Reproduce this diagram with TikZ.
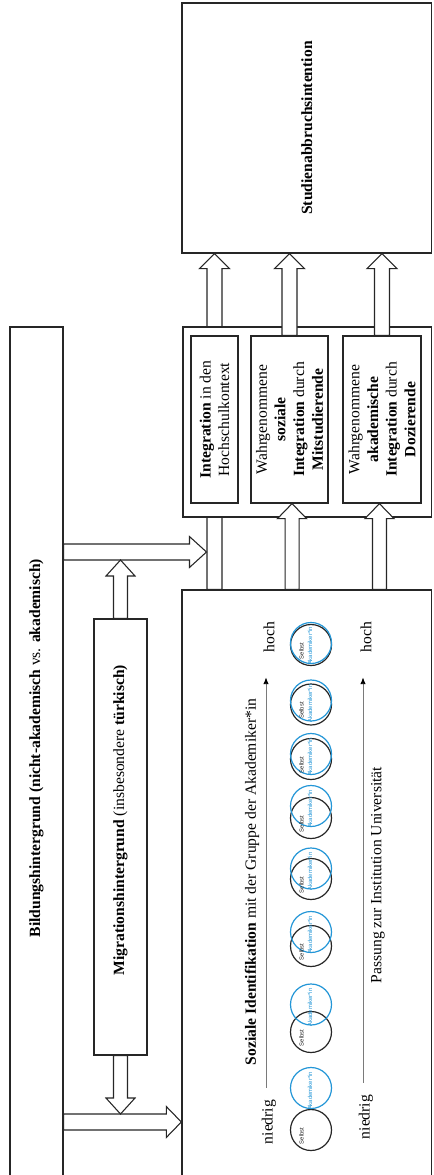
\documentclass[tikz,border=0pt]{standalone}
\usepackage{fontspec}
\setmainfont{Liberation Serif}
\newfontfamily\sansf{Liberation Sans}
\usetikzlibrary{calc,fit,arrows.meta}
\definecolor{lineblk}{HTML}{262626}
\definecolor{akblue}{HTML}{2396D7}
\definecolor{axisgray}{HTML}{7A7A7A}
\pgfdeclarelayer{background}
\pgfsetlayers{background,main}
\newcommand{\drawblockarrow}[5]{%
  \coordinate (ba-t) at (#1);
  \coordinate (ba-p) at (#2);
  \coordinate (ba-h) at ($(ba-p)!#5!(ba-t)$);
  \draw[barrow] ($(ba-t)!#3!90:(ba-p)$) -- ($(ba-h)!#3!-90:(ba-t)$) -- ($(ba-h)!#4!-90:(ba-t)$) -- (ba-p) -- ($(ba-h)!#4!90:(ba-t)$) -- ($(ba-h)!#3!90:(ba-t)$) -- ($(ba-t)!#3!-90:(ba-p)$) -- cycle;
}
\begin{document}
\begin{tikzpicture}[x=0.75pt,y=-0.75pt,
  box/.style={draw=lineblk, line width=1pt, fill=white, inner sep=0pt},
  innerbox/.style={draw=lineblk, line width=0.9pt, fill=white, inner sep=0pt},
  barrow/.style={draw=lineblk, line width=0.8pt, fill=white, line join=miter},
  lbl/.style={rotate=90, font=\fontsize{11.7}{14}\selectfont, align=center, inner sep=0pt},
  circs/.style={circle, draw=#1, line width=0.9pt, minimum size=30.75pt, inner sep=0pt},
  tinylbl/.style={rotate=90, font=\sansf\fontsize{4.4}{5}\selectfont, inner sep=0pt},
  axisline/.style={draw=axisgray, line width=0.6pt, -{Latex[length=5pt,width=4pt,black]}, shorten <=9pt, shorten >=18.75pt}
]
\useasboundingbox (0,0) rectangle (433,1175);

% main boxes
\node[box, fit={(182,3) (431.5,253)}] (studien) {};
\node[lbl] (studientxt) at (studien.center) {\textbf{Studienabbruchsintention}};

\node[box, fit={(10,327) (63,1185)}] (bildung) {};
\node[lbl] (bildungtxt) at (36.5,748) {\textbf{Bildungshintergrund (nicht-akademisch} vs. \textbf{akademisch)}};

\node[box, fit={(94,619) (147,1055)}] (migration) {};
\node[lbl] (migtxt) at (120.5,820) {\textbf{Migrationshintergrund} (insbesondere \textbf{türkisch)}};

\node[box, fit={(182,590) (431.5,1185)}] (sozial) {};

% integration boxes
\node[box, fit={(183,327) (431.5,517)}] (integ) {};
\node[innerbox, fit={(191,336) (238,503)}] (inner1) {};
\node[innerbox, fit={(251,336) (328,503)}] (inner2) {};
\node[innerbox, fit={(343,336) (421,503)}] (inner3) {};
\node[lbl] (inner1txt) at (inner1.center) {\textbf{Integration} in den\\Hochschulkontext};
\node[lbl] (inner2txt) at (inner2.center) {Wahrgenommene\\\textbf{soziale}\\\textbf{Integration} durch\\\textbf{Mitstudierende}};
\node[lbl] (inner3txt) at (inner3.center) {Wahrgenommene\\\textbf{akademische}\\\textbf{Integration} durch\\\textbf{Dozierende}};

% long arrow through the integration box (behind it)
\begin{pgfonlayer}{background}
\drawblockarrow{inner1.center |- sozial.north}{inner1.center |- studien.south}{5.625pt}{11.25pt}{11.25pt}
\end{pgfonlayer}

% arrows to Studienabbruchsintention
\drawblockarrow{inner2.north}{inner2.north |- studien.south}{5.625pt}{11.25pt}{11.25pt}
\drawblockarrow{inner3.north}{inner3.north |- studien.south}{5.625pt}{11.25pt}{11.25pt}

% arrows from Soziale Identifikation box into inner boxes
\coordinate (b2tip) at ([xshift=1.9pt]inner2.south);
\coordinate (b3tip) at ([xshift=-1.9pt]inner3.south);
\drawblockarrow{b2tip |- sozial.north}{b2tip}{5.25pt}{10.9pt}{11.25pt}
\drawblockarrow{b3tip |- sozial.north}{b3tip}{5.25pt}{10.9pt}{11.25pt}

% Bildungshintergrund -> moderation arrows
\coordinate (j1) at (206.5,552);
\coordinate (j1b) at ($(j1)+(0,8)$);
\drawblockarrow{bildung.east |- j1}{j1}{6pt}{11.6pt}{12.75pt}
\drawblockarrow{migration.north}{migration.north |- j1b}{5.25pt}{10.9pt}{12pt}

\coordinate (j2) at (sozial.west |- 0,1122);
\coordinate (j2t) at ($(j2)+(0,-8)$);
\drawblockarrow{bildung.east |- j2}{j2}{6pt}{11.6pt}{11.25pt}
\drawblockarrow{migration.south}{migration.south |- j2t}{5.25pt}{10.9pt}{12pt}

% contents of the Soziale Identifikation box
\node[lbl] (soztitle) at (252,882) {\textbf{Soziale Identifikation} mit der Gruppe der Akademiker*in};
\node[lbl] (niedrig1) at (269,1122) {niedrig};
\node[lbl] (hoch1) at (269,637) {hoch};
\draw[axisline] ([xshift=-2.25pt]niedrig1.east) -- ([xshift=-2.25pt]hoch1.west);

\node[lbl] (niedrig2) at (366,1117) {niedrig};
\node[lbl] (hoch2) at (366,637) {hoch};
\draw[axisline] ([xshift=-2.25pt]niedrig2.east) -- ([xshift=-2.25pt]hoch2.west);
\node[lbl] (passung) at (378,875) {Passung zur Institution Universität};

\foreach \i/\bl/\bk in {1/1088/1130, 2/1004.5/1032, 3/932/946, 4/868.5/879, 5/806/818, 6/754/759, 7/700.5/704.5, 8/643/645}{
  \node[circs=lineblk] (selbst\i) at (311,\bk) {};
  \node[circs=akblue] (akad\i) at (311,\bl) {};
  \node[tinylbl, text=lineblk] (selbstlbl\i) at (301.5,\bk+6) {Selbst};
  \node[tinylbl, text=akblue] (akadlbl\i) at (310,\bl+3) {Akademiker*in};
}
\end{tikzpicture}
\end{document}
